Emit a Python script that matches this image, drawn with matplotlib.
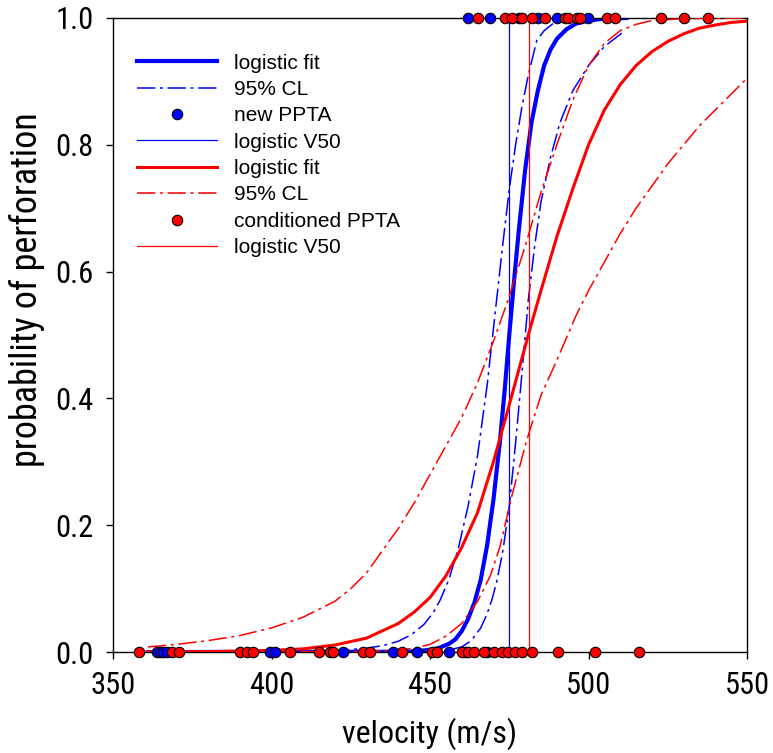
import numpy as np
import matplotlib
matplotlib.use('Agg')
import matplotlib.pyplot as plt
from matplotlib import font_manager
from matplotlib.ticker import FormatStrFormatter

# fit curves (velocity m/s, probability)
blue_fit_v = [361, 440, 445, 450, 453, 456, 458, 460, 462, 464, 466, 468, 470, 472, 473.5, 475,
              476.5, 478, 480, 482, 484, 486, 488, 490, 493, 496, 500, 505, 512]
blue_fit_p = [0.0, 0.0004, 0.001, 0.0035, 0.0067, 0.013, 0.02, 0.033, 0.052, 0.078, 0.114, 0.168,
              0.24, 0.33, 0.41, 0.5, 0.585, 0.665, 0.76, 0.835, 0.885, 0.925, 0.95, 0.967, 0.982,
              0.991, 0.996, 0.999, 1.0]

blue_cl_hi_v = [361, 400, 420, 430, 435, 440, 444, 448, 451, 453.2, 456, 459, 462, 465, 468, 471,
                473, 475, 477, 479, 481, 483.7, 486, 489, 493, 500, 512]
blue_cl_hi_p = [0.0, 0.0003, 0.002, 0.006, 0.01, 0.017, 0.027, 0.043, 0.062, 0.082, 0.115, 0.165,
                0.23, 0.31, 0.42, 0.555, 0.645, 0.73, 0.8, 0.86, 0.91, 0.965, 0.98, 0.992, 0.998,
                1.0, 1.0]

blue_cl_lo_v = [361, 445, 455, 460, 463, 466, 468, 469.5, 471, 473, 475, 477, 479, 481, 483, 485,
                488, 491, 495, 500, 505, 511]
blue_cl_lo_p = [0.0, 0.0, 0.002, 0.008, 0.018, 0.038, 0.06, 0.082, 0.11, 0.16, 0.23, 0.33, 0.44,
                0.555, 0.64, 0.71, 0.78, 0.835, 0.885, 0.925, 0.955, 0.978]

red_fit_v = [361, 380, 400, 410, 420, 430, 440, 445, 450, 455, 460, 465, 470, 475, 481, 485, 490,
             495, 500, 505, 510, 515, 520, 525, 530, 535, 540, 545, 550]
red_fit_p = [0.0001, 0.0006, 0.0025, 0.005, 0.011, 0.022, 0.045, 0.063, 0.086, 0.12, 0.165, 0.22,
             0.3, 0.39, 0.5, 0.57, 0.655, 0.73, 0.8, 0.855, 0.895, 0.925, 0.947, 0.963, 0.975,
             0.984, 0.989, 0.993, 0.995]

red_cl_hi_v = [361, 370, 380, 390, 400, 410, 420, 425, 430, 435, 440, 445, 450, 455, 460, 465, 470,
               474.6, 480, 485, 490, 495, 500, 505, 510, 515, 520, 530, 550]
red_cl_hi_p = [0.008, 0.012, 0.018, 0.026, 0.038, 0.055, 0.08, 0.1, 0.125, 0.16, 0.195, 0.235,
               0.28, 0.325, 0.37, 0.425, 0.49, 0.555, 0.64, 0.725, 0.8, 0.87, 0.925, 0.96, 0.98,
               0.99, 0.996, 0.999, 1.0]

red_cl_lo_v = [361, 430, 440, 445, 450, 455, 460, 465, 469, 472, 476, 480.5, 485, 490, 496, 500,
               505, 510, 515, 520, 525, 530, 535, 540, 545, 550]
red_cl_lo_p = [0.0, 0.001, 0.003, 0.006, 0.012, 0.025, 0.045, 0.08, 0.12, 0.165, 0.25, 0.334,
               0.405, 0.46, 0.53, 0.57, 0.615, 0.66, 0.7, 0.735, 0.77, 0.8, 0.83, 0.855, 0.88, 0.905]

blue_v50 = 475.0
red_v50 = 481.2

# test shots: velocity, outcome (0 = no perforation, 1 = perforation)
new_v = [363.8, 364.8, 365.8, 366.9, 399.5, 401.1, 422.6, 438.4, 445.8, 456.0, 461.0, 468.0,
         461.9, 468.9, 478.0, 484.0, 490.0, 499.9]
new_p = [0, 0, 0, 0, 0, 0, 0, 0, 0, 0, 0, 0,
         1, 1, 1, 1, 1, 1]

cond_v = [358.2, 368.5, 370.7, 390.1, 392.2, 394.3, 405.8, 415.1, 418.5, 419.5, 429.0, 431.1,
          441.1, 450.5, 452.3, 460.0, 462.0, 463.9, 467.0, 470.2, 472.6, 474.6, 476.8, 479.0,
          482.1, 490.5, 502.1, 515.8,
          465.0, 473.7, 476.0, 478.9, 482.3, 486.3, 492.6, 493.6, 496.3, 497.3, 505.7, 508.4,
          522.9, 530.2, 537.8]
cond_p = [0] * 28 + [1] * 15

xticks = [350, 400, 450, 500, 550]
yticks = [0.0, 0.2, 0.4, 0.6, 0.8, 1.0]

BLUE = '#0000ff'
RED = '#ff0000'

# axis text in the original is a narrow sans; use one if available
installed = {f.name for f in font_manager.fontManager.ttflist}
narrow = [n for n in ['Liberation Sans Narrow', 'Roboto Condensed', 'Open Sans Condensed',
                      'Noto Sans Condensed'] if n in installed]
if narrow:
    axis_font = [narrow[0], 'Liberation Sans']
    tick_size, xlab_size, ylab_size = 22, 23, 26
else:
    axis_font = ['Liberation Sans', 'DejaVu Sans']
    tick_size, xlab_size, ylab_size = 18, 19, 21

fig = plt.figure(figsize=(7.73, 7.53), dpi=100)
ax = fig.add_axes([0.1462, 0.1341, 0.8202, 0.8420])

dashdot = (0, (12, 3, 2, 3))

ax.plot(blue_fit_v, blue_fit_p, color=BLUE, lw=3.0, label='logistic fit', zorder=2)
ax.plot(blue_cl_hi_v, blue_cl_hi_p, color=BLUE, lw=1.1, ls=dashdot, label='95% CL', zorder=2)
ax.plot(blue_cl_lo_v, blue_cl_lo_p, color=BLUE, lw=1.1, ls=dashdot, zorder=2)
ax.plot(new_v, new_p, 'o', color=BLUE, mec='black', mew=0.8, ms=7.5, label='new PPTA',
        clip_on=False, zorder=5)
ax.plot([blue_v50, blue_v50], [0, 1], color=BLUE, lw=0.9, label='logistic V50', zorder=2)

ax.plot(red_fit_v, red_fit_p, color=RED, lw=2.2, label='logistic fit', zorder=3)
ax.plot(red_cl_hi_v, red_cl_hi_p, color=RED, lw=1.1, ls=dashdot, label='95% CL', zorder=3)
ax.plot(red_cl_lo_v, red_cl_lo_p, color=RED, lw=1.1, ls=dashdot, zorder=3)
ax.plot(cond_v, cond_p, 'o', color=RED, mec='black', mew=0.8, ms=7.5, label='conditioned PPTA',
        clip_on=False, zorder=6)
ax.plot([red_v50, red_v50], [0, 1], color=RED, lw=0.9, label='logistic V50', zorder=3)

ax.set_xlim(350, 550)
ax.set_ylim(0, 1)
ax.set_xticks(xticks)
ax.set_yticks(yticks)
ax.yaxis.set_major_formatter(FormatStrFormatter('%.1f'))
ax.tick_params(direction='out', length=5, width=1, top=False, right=False, pad=9)
for lab in ax.get_xticklabels() + ax.get_yticklabels():
    lab.set_family(axis_font)
    lab.set_fontsize(tick_size)
for s in ax.spines.values():
    s.set_linewidth(1.0)

ax.set_xlabel('velocity (m/s)', family=axis_font, fontsize=xlab_size, labelpad=12)
ax.set_ylabel('probability of perforation', family=axis_font, fontsize=ylab_size)
ax.yaxis.set_label_coords(-0.108, 0.571)

leg = ax.legend(loc='upper left', bbox_to_anchor=(0.038, 0.944), frameon=False,
                borderpad=0, borderaxespad=0, numpoints=1, handlelength=3.85,
                handletextpad=0.8, labelspacing=0.355,
                prop={'family': 'Liberation Sans', 'size': 15})

fig.savefig('out.png', dpi=100)
